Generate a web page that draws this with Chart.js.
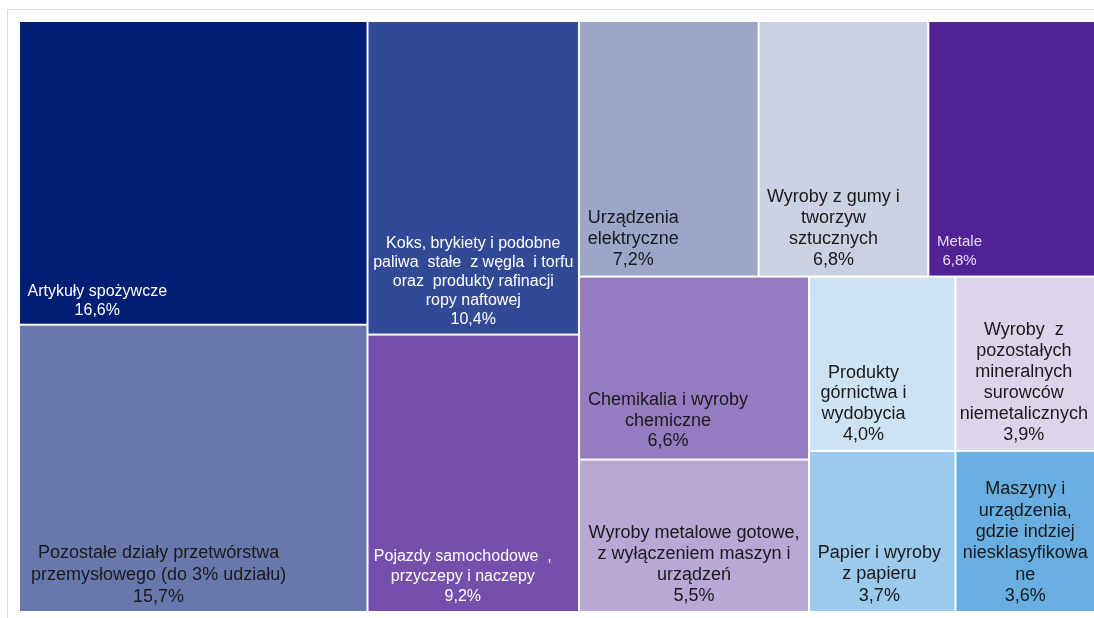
<!doctype html>
<html>

<head>
<meta charset="utf-8">
<title>Treemap - udział działów</title>
<script src="https://cdn.jsdelivr.net/npm/chart.js@4.4.1/dist/chart.umd.min.js"></script>
<style>
	html, body {
		margin: 0;
		padding: 0;
		background: #fff;
		overflow: hidden;
	}
	/* wykres jest nieco szerszy niż okno, prawa krawędź jest ucięta jak w oryginale */
	#container {
		width: 1098px;
		height: 618px;
	}
</style>
</head>

<body>
	<div id="container">
		<canvas id="canvas"></canvas>
	</div>
	<script>
		// dane: udział w procentach
		const categories = [
			'Artykuły spożywcze',
			'Pozostałe działy przetwórstwa przemysłowego (do 3% udziału)',
			'Koks, brykiety i podobne paliwa stałe z węgla i torfu oraz produkty rafinacji ropy naftowej',
			'Pojazdy samochodowe, przyczepy i naczepy',
			'Urządzenia elektryczne',
			'Wyroby z gumy i tworzyw sztucznych',
			'Metale',
			'Chemikalia i wyroby chemiczne',
			'Wyroby metalowe gotowe, z wyłączeniem maszyn i urządzeń',
			'Produkty górnictwa i wydobycia',
			'Wyroby z pozostałych mineralnych surowców niemetalicznych',
			'Papier i wyroby z papieru',
			'Maszyny i urządzenia, gdzie indziej niesklasyfikowane'
		];
		const shares = [16.6, 15.7, 10.4, 9.2, 7.2, 6.8, 6.8, 6.6, 5.5, 4.0, 3.9, 3.7, 3.6];
		const labelLines = [
			['Artykuły spożywcze'],
			['Pozostałe działy przetwórstwa', 'przemysłowego (do 3% udziału)'],
			['Koks, brykiety i podobne', 'paliwa  stałe  z węgla  i torfu', 'oraz  produkty rafinacji', 'ropy naftowej'],
			['Pojazdy samochodowe  ,', 'przyczepy i naczepy'],
			['Urządzenia', 'elektryczne'],
			['Wyroby z gumy i', 'tworzyw', 'sztucznych'],
			['Metale'],
			['Chemikalia i wyroby', 'chemiczne'],
			['Wyroby metalowe gotowe,', 'z wyłączeniem maszyn i', 'urządzeń'],
			['Produkty', 'górnictwa i', 'wydobycia'],
			['Wyroby  z', 'pozostałych', 'mineralnych', 'surowców', 'niemetalicznych'],
			['Papier i wyroby', 'z papieru'],
			['Maszyny i', 'urządzenia,', 'gdzie indziej', 'niesklasyfikowa', 'ne']
		];

		// wygląd
		const fillColors = ['#001e74', '#6878ac', '#324a96', '#744fac', '#9ba6c9', '#cbd0e3', '#522196',
			'#967bc0', '#b9a7d6', '#cde3f4', '#ddd3eb', '#9bcaec', '#68aee0'];
		const textColors = ['#ffffff', '#1a1a1a', '#ffffff', '#ffffff', '#1a1a1a', '#1a1a1a', '#e4dcf3',
			'#1a1a1a', '#1a1a1a', '#1a1a1a', '#1a1a1a', '#1a1a1a', '#1a1a1a'];
		const fontSizes = [16, 18, 16, 16, 18, 18, 15, 18, 18, 18, 18, 18, 18];
		const lineHeights = [19, 22, 19, 20, 20.7, 20.7, 19, 20.7, 21, 20.7, 21, 21.5, 21.3];
		const labelAnchorX = [0.223, 0.40, 0.5, 0.45, 0.30, 0.44, 0.18, 0.386, 0.5, 0.37, 0.48, 0.48, 0.49];
		const labelPadBottom = [13, 14, 14, 14, 16, 16, 15, 17, 15, 15, 15, 15, 15];

		// podział prostokątów: h = obok siebie, v = jeden pod drugim
		const layoutTree = ['h', ['v', 0, 1], ['v', 2, 3],
			['v', ['h', 4, 5, 6], ['h', ['v', 7, 8], ['v', ['h', 9, 10], ['h', 11, 12]]]]];

		function total(node) {
			if (typeof node === 'number') return shares[node];
			return node.slice(1).reduce((s, n) => s + total(n), 0);
		}

		function layout(node, x0, y0, x1, y1, out) {
			if (typeof node === 'number') {
				out[node] = {x0, y0, x1, y1};
				return out;
			}
			const sum = total(node);
			let pos = node[0] === 'h' ? x0 : y0;
			node.slice(1).forEach(child => {
				const f = total(child) / sum;
				if (node[0] === 'h') {
					const w = (x1 - x0) * f;
					layout(child, pos, y0, pos + w, y1, out);
					pos += w;
				} else {
					const h = (y1 - y0) * f;
					layout(child, x0, pos, x1, pos + h, out);
					pos += h;
				}
			});
			return out;
		}

		const cells = layout(layoutTree, 0, 0, 100, 100, []);

		const framePlugin = {
			id: 'frame',
			beforeDraw(chart) {
				const ctx = chart.ctx;
				ctx.save();
				ctx.strokeStyle = '#d9d9d9';
				ctx.lineWidth = 1;
				ctx.beginPath();
				ctx.moveTo(7.5, chart.height);
				ctx.lineTo(7.5, 9.5);
				ctx.lineTo(chart.width, 9.5);
				ctx.stroke();
				ctx.restore();
			}
		};

		const treemapPlugin = {
			id: 'treemapCells',
			afterDatasetsDraw(chart) {
				const ctx = chart.ctx;
				const xs = chart.scales.x;
				const ys = chart.scales.y;
				ctx.save();
				cells.forEach((c, i) => {
					const left = xs.getPixelForValue(c.x0) + 1;
					const right = xs.getPixelForValue(c.x1) - 1;
					const top = ys.getPixelForValue(c.y0) + 1;
					const bottom = ys.getPixelForValue(c.y1) - 1;
					ctx.fillStyle = fillColors[i];
					ctx.fillRect(left, top, right - left, bottom - top);

					const lines = labelLines[i].concat([shares[i].toFixed(1).replace('.', ',') + '%']);
					const lh = lineHeights[i];
					ctx.font = fontSizes[i] + 'px "Liberation Sans", Arial, sans-serif';
					ctx.fillStyle = textColors[i];
					ctx.textAlign = 'center';
					ctx.textBaseline = 'middle';
					const cx = left + (right - left) * labelAnchorX[i];
					lines.forEach((t, k) => {
						const y = bottom - labelPadBottom[i] - (lines.length - 1 - k) * lh;
						ctx.fillText(t, cx, y);
					});
				});
				ctx.restore();
			}
		};

		const ctx = document.getElementById('canvas').getContext('2d');
		window.myChart = new Chart(ctx, {
			type: 'scatter',
			data: {
				datasets: [{
					label: 'Udział',
					data: cells.map((c, i) => ({x: (c.x0 + c.x1) / 2, y: (c.y0 + c.y1) / 2, v: shares[i]})),
					pointRadius: 0,
					pointHoverRadius: 0
				}]
			},
			options: {
				responsive: true,
				maintainAspectRatio: false,
				animation: false,
				layout: {
					padding: {left: 19, top: 21, right: 0, bottom: 6}
				},
				scales: {
					x: {type: 'linear', min: 0, max: 100, display: false},
					y: {type: 'linear', min: 0, max: 100, reverse: true, display: false}
				},
				plugins: {
					legend: {display: false},
					tooltip: {enabled: false}
				}
			},
			plugins: [framePlugin, treemapPlugin]
		});
	</script>
</body>

</html>
